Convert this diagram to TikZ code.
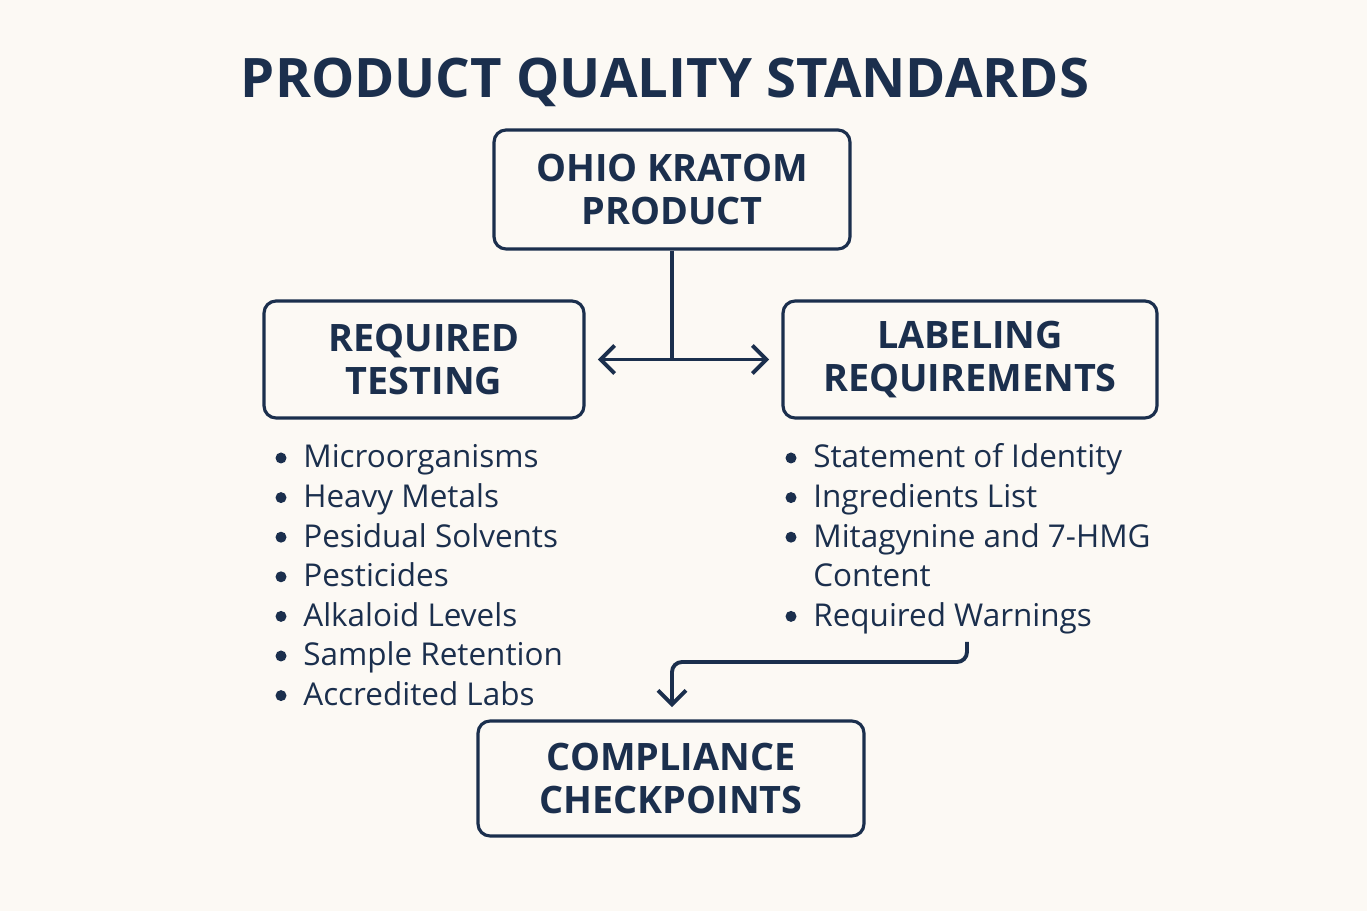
\documentclass[tikz,border=0pt]{standalone}
\usepackage{fontspec}
\setmainfont{Open Sans}
\usetikzlibrary{positioning}
\usetikzlibrary{arrows.meta}

\definecolor{navy}{HTML}{1B2F4D}
\definecolor{paper}{HTML}{FCF9F4}

\tikzset{
  stdbox/.style={draw=navy, line width=1.8pt, rounded corners=0.24cm, align=center,
    text=navy, font=\fontsize{21.5}{24.5}\selectfont\bfseries, inner sep=0pt},
  listitem/.style={anchor=base west, text=navy, font=\fontsize{17.9}{20}\selectfont, inner sep=0pt},
  link/.style={draw=navy, line width=2.2pt}
}

\begin{document}
\begin{tikzpicture}
	[x=0.02cm, y=-0.02cm,
	>={Straight Barb[length=8pt,width=16pt,line width=2.2pt]}]

	\useasboundingbox [fill=paper] (0,0) rectangle (1367,911);

	% title
	\node [anchor=base, text=navy, font=\fontsize{31}{36}\selectfont\bfseries] (title) at (665,98) {PRODUCT QUALITY STANDARDS};

	% boxes
	\node [stdbox, minimum width=7.12cm, minimum height=2.38cm] (product) at (672,189.5) {OHIO KRATOM\\PRODUCT};
	\node [stdbox, minimum width=6.4cm, minimum height=2.34cm] (testing) at (424,359.5) {REQUIRED\\TESTING};
	\node [stdbox, minimum width=7.48cm, minimum height=2.34cm] (labeling) at (970,359.5) {LABELING\\REQUIREMENTS};
	\node [stdbox, minimum width=7.72cm, minimum height=2.3cm] (checkpoints) at (671,778.5) {COMPLIANCE\\CHECKPOINTS};

	% lists
	\foreach \txt [count=\i from 0] in {Microorganisms, Heavy Metals, Pesidual Solvents, Pesticides, Alkaloid Levels, Sample Retention, Accredited Labs} {
		\node [listitem] (test\i) at (303,468+39.6*\i) {\txt};
		\fill [navy] (281,458+39.6*\i) circle (5.5);
	}
	\foreach \l/\txt in {0/Statement of Identity, 1/Ingredients List, 2/Mitagynine and 7-HMG, 4/Required Warnings} {
		\node [listitem] (label\l) at (813,468+39.6*\l) {\txt};
		\fill [navy] (791,458+39.6*\l) circle (5.5);
	}
	\node [listitem] (label3) at (813,468+39.6*3) {Content};

	% connectors
	\coordinate (split) at (product.south |- testing.east);
	\draw [link] (product.south) -- (split);
	\draw [link, ->, shorten >=7] (split) -- (testing.east);
	\draw [link, ->, shorten >=7] (split) -- (labeling.west);

	\coordinate (warnEnd) at (967,642);
	\coordinate (bend) at (672,662);
	\draw [link, ->, shorten >=7] (warnEnd) [rounded corners=0.2cm] |- (bend) [sharp corners] -- (checkpoints.north -| bend);
\end{tikzpicture}
\end{document}
